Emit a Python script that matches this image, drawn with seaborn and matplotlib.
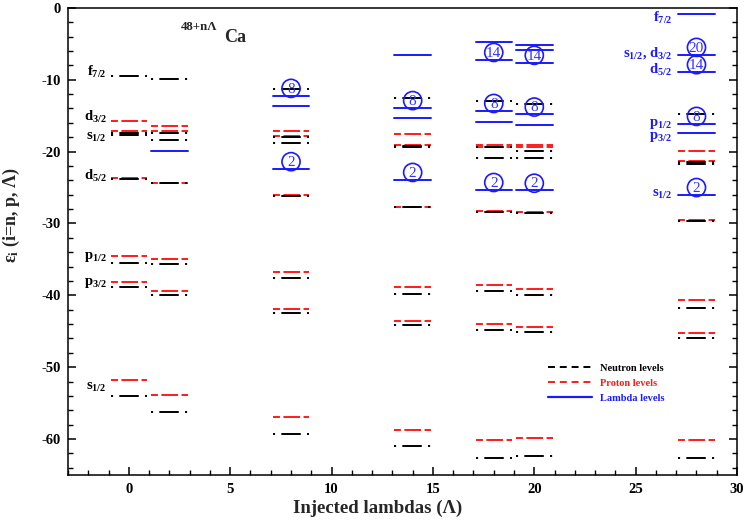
import matplotlib
matplotlib.use("Agg")
import matplotlib.pyplot as plt
from matplotlib.lines import Line2D
from matplotlib.ticker import MultipleLocator
import pandas as pd
import seaborn as sns

# Single-particle levels (MeV) of 48Ca with n injected lambdas
n_lambda = [0, 2, 8, 14, 18, 20, 28]

neutron_levels = [
    [-54.0, -38.8, -35.5, -23.8, -17.7, -17.4, -9.5],
    [-56.3, -39.9, -35.6, -24.3, -18.4, -17.4, -9.9],
    [-59.3, -42.5, -37.6, -26.2, -18.8, -18.0, -11.3],
    [-60.9, -44.1, -39.8, -27.7, -19.4, -19.2, -12.5],
    [-62.6, -44.8, -39.4, -28.4, -20.9, -19.3, -12.9],
    [-62.3, -45.1, -40.0, -28.5, -20.9, -19.9, -13.4],
    [-62.6, -45.9, -41.7, -29.6, -21.7, -21.5, -14.7],
]
proton_levels = [
    [-51.8, -38.1, -34.5, -23.7, -17.2, -15.8],
    [-53.9, -39.4, -34.9, -24.4, -17.2, -16.5],
    [-57.0, -41.9, -36.8, -26.1, -17.8, -17.1],
    [-58.7, -43.6, -38.8, -27.7, -19.1, -17.6],
    [-60.1, -44.0, -38.5, -28.3, -19.3, -19.1],
    [-59.9, -44.4, -39.1, -28.4, -19.4, -19.1],
    [-60.1, -45.2, -40.6, -29.5, -21.3, -19.9],
]
lambda_levels = [
    [],
    [-19.9],
    [-22.4, -13.6, -12.2],
    [-23.9, -15.3, -13.9, -6.5],
    [-25.3, -15.9, -14.3, -7.2, -4.8],
    [-25.4, -16.3, -14.8, -7.6, -5.8, -5.2],
    [-26.0, -17.4, -16.1, -8.9, -6.5, -0.9],
]

# Lambda shell closures marked by circled numbers
shell_lambda = [8, 8, 14, 14, 18, 18, 18, 20, 20, 20, 28, 28, 28, 28]
shell_level = [-22.4, -12.2, -23.9, -13.9, -25.3, -14.3, -7.2,
               -25.4, -14.8, -7.6, -26.0, -16.1, -8.9, -6.5]
shell_number = ["2", "8", "2", "8", "2", "8", "14",
                "2", "8", "14", "2", "8", "14", "20"]

# Orbital names
neutron_orbitals = ["f$_{7/2}$", "d$_{3/2}$", "s$_{1/2}$", "d$_{5/2}$",
                    "p$_{1/2}$", "p$_{3/2}$", "s$_{1/2}$"]
neutron_label_y = [-8.9, -15.2, -18.0, -23.4, -34.7, -38.3, -52.8]
lambda_orbitals = ["f$_{7/2}$", "s$_{1/2}$, d$_{3/2}$", "d$_{5/2}$",
                   "p$_{1/2}$", "p$_{3/2}$", "s$_{1/2}$"]
lambda_label_y = [-1.4, -6.3, -8.7, -16.2, -17.9, -25.9]

series_names = ["Neutron levels", "Proton levels", "Lambda levels"]
series_colors = {"Neutron levels": "black", "Proton levels": "#ff1a1a",
                 "Lambda levels": "#1a1aff"}

sns.set_theme(style="ticks")
plt.rcParams.update({
    "font.family": ["Liberation Serif", "DejaVu Serif"],
    "font.weight": "bold",
    "mathtext.default": "regular",
    "lines.scale_dashes": False,
    "axes.unicode_minus": False,
    "axes.linewidth": 1.1,
    "axes.edgecolor": "black",
})

HALF = 0.9
records = []
for name, table in zip(series_names, (neutron_levels, proton_levels, lambda_levels)):
    for lam, energies in zip(n_lambda, table):
        for k, e in enumerate(energies):
            uid = f"{name}|{lam}|{k}"
            records.append({"kind": name, "uid": uid, "x": lam - HALF, "e": e})
            records.append({"kind": name, "uid": uid, "x": lam + HALF, "e": e})
df = pd.DataFrame(records)

fig = plt.figure(figsize=(7.45, 5.26), dpi=100)
ax = fig.add_axes([0.0913, 0.097, 0.898, 0.888])

dash_map = {
    "Neutron levels": (1.5, 4.5, 14, 4.5),
    "Proton levels": (5, 2.5, 12, 2.5),
    "Lambda levels": "",
}
sns.lineplot(data=df, x="x", y="e", hue="kind", style="kind", units="uid",
             estimator=None, sort=False,
             hue_order=["Proton levels", "Neutron levels", "Lambda levels"],
             style_order=["Proton levels", "Neutron levels", "Lambda levels"],
             palette=series_colors, dashes=dash_map, linewidth=1.4,
             legend=False, ax=ax)

# circled shell-closure numbers
shell_df = pd.DataFrame({"x": shell_lambda,
                         "y": [v + 1.0 for v in shell_level],
                         "n": shell_number})
sns.scatterplot(data=shell_df, x="x", y="y", marker="o", s=170,
                facecolors="none", edgecolors="#1a1aff", linewidth=1.2,
                legend=False, ax=ax, zorder=5)
for _, r in shell_df.iterrows():
    ax.text(r["x"], r["y"] - 0.1, r["n"], color="#3333ff", fontsize=11,
            fontweight="normal", ha="center", va="center", zorder=6)

# orbital labels
for lab, y in zip(neutron_orbitals, neutron_label_y):
    ax.text(-1.1, y, lab, color="black", fontsize=10.5, fontweight="bold",
            ha="right", va="center")
for lab, y in zip(lambda_orbitals, lambda_label_y):
    ax.text(26.8, y, lab, color="#1a1aff", fontsize=10.5, fontweight="bold",
            ha="right", va="center")

# nucleus name
ax.text(3.47, -2.6, "48+nΛ", fontsize=9.3, fontweight="bold", ha="center",
        va="center")
ax.text(4.7, -4.1, "Ca", fontsize=13, fontweight="bold", ha="left",
        va="center")

ax.set_xlim(-3, 30)
ax.set_ylim(-65, 0)
ax.xaxis.set_major_locator(MultipleLocator(5))
ax.xaxis.set_minor_locator(MultipleLocator(1))
ax.yaxis.set_major_locator(MultipleLocator(10))
ax.yaxis.set_minor_locator(MultipleLocator(2))
ax.tick_params(axis="both", which="both", direction="in", colors="black",
               labelsize=10.5)
ax.tick_params(axis="y", which="both", left=True, right=True, pad=5)
ax.tick_params(axis="x", which="both", bottom=True, top=False, pad=6)
ax.tick_params(which="major", length=6, width=1.1)
ax.tick_params(which="minor", length=3.5, width=1.0)
for t in ax.get_xticklabels() + ax.get_yticklabels():
    t.set_fontweight("bold")
for s in ax.spines.values():
    s.set_visible(True)

ax.set_xlabel("Injected lambdas (Λ)", fontsize=13.5, fontweight="bold")
ax.xaxis.set_label_coords(0.463, -0.052)
ax.set_ylabel("ε$_i$ (i=n, p, Λ)", fontsize=13, fontweight="bold")
ax.yaxis.set_label_coords(-0.069, 0.557)

handles = [
    Line2D([], [], color="black", linewidth=1.4, dashes=(5, 3.5)),
    Line2D([], [], color="#ff1a1a", linewidth=1.4, dashes=(5, 3.5)),
    Line2D([], [], color="#1a1aff", linewidth=1.6),
]
leg = ax.legend(handles, series_names, loc="upper left",
                bbox_to_anchor=(0.7175, 0.2386), frameon=False,
                prop={"family": "Liberation Serif", "weight": "bold",
                      "size": 7.5},
                handlelength=4.2, handletextpad=0.8, labelspacing=0.55,
                borderpad=0, borderaxespad=0,
                labelcolor=["black", "#ff1a1a", "#1a1aff"])

fig.savefig("out.png", dpi=100)
